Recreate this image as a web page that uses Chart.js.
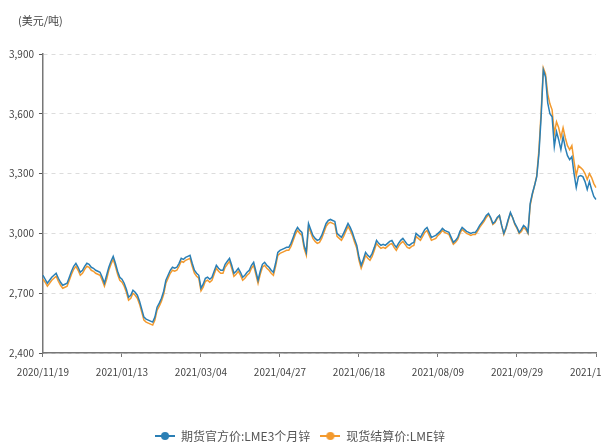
<!DOCTYPE html>
<html>
<head>
<meta charset="utf-8">
<script src="https://cdn.jsdelivr.net/npm/chart.js@4.4.0/dist/chart.umd.min.js"></script>
<style>
  body { margin: 0; background: #fff; overflow: hidden; }
  #wrap { position: relative; width: 601px; height: 448px; overflow: hidden; }
  #unit { position: absolute; left: 18px; top: 12px; font: 11px "Noto Sans CJK SC", sans-serif; color: #444; }
</style>
</head>
<body>
<div id="wrap">
  <div id="unit">(美元/吨)</div>
  <canvas id="chart" width="601" height="452"></canvas>
</div>
<script>
// trading days: weekdays from 2020/11/19, minus LME holidays
const startDay = "2020-11-19";
const dayCount = 253;
const holidays = ["2020-12-25", "2020-12-28", "2021-01-01", "2021-04-02", "2021-04-05", "2021-05-03", "2021-05-31", "2021-08-30"];
const labelEvery = 36;

const futures3m = [
  2790, 2770, 2750, 2765, 2780, 2790, 2800, 2775, 2755, 2740,
  2745, 2750, 2780, 2810, 2835, 2850, 2830, 2805, 2815, 2835,
  2850, 2845, 2830, 2825, 2815, 2810, 2805, 2780, 2750, 2790,
  2830, 2860, 2885, 2850, 2810, 2780, 2770, 2750, 2720, 2680,
  2690, 2715, 2705, 2690, 2660, 2620, 2580, 2570, 2565, 2560,
  2555, 2580, 2630, 2650, 2675, 2710, 2765, 2790, 2815, 2830,
  2825, 2830, 2850, 2875, 2870, 2880, 2885, 2890, 2850, 2815,
  2800, 2790, 2725, 2745, 2775, 2780, 2770, 2780, 2810, 2840,
  2825, 2815, 2815, 2845, 2860, 2875, 2840, 2800, 2810, 2825,
  2805, 2780, 2790, 2805, 2815, 2840, 2855, 2810, 2765, 2810,
  2845, 2855, 2840, 2830, 2815, 2805, 2850, 2905, 2915, 2920,
  2925, 2930, 2930, 2950, 2980, 3010, 3030, 3015, 3005, 2940,
  2905, 3050, 3020, 2990, 2975, 2965, 2970, 2990, 3020, 3050,
  3065, 3070, 3065, 3060, 3000, 2990, 2980, 3000, 3025, 3050,
  3030, 3005, 2970, 2940, 2880, 2840, 2870, 2905, 2890, 2880,
  2900, 2930, 2965, 2950, 2940, 2945, 2940, 2950, 2960, 2965,
  2945, 2930, 2950, 2965, 2975, 2960, 2945, 2940, 2950, 2955,
  3000, 2990, 2980, 3000, 3020, 3030, 3005, 2980, 2985, 2990,
  3000, 3010, 3025, 3015, 3010, 3005, 2980, 2955, 2965, 2980,
  3010, 3030, 3020, 3010, 3005, 3000, 3005, 3005, 3020, 3040,
  3055, 3070, 3090, 3100, 3080, 3050, 3060, 3080, 3090, 3040,
  3000, 3030, 3070, 3105, 3080, 3050, 3030, 3005, 3020, 3040,
  3030, 3005, 3150, 3200, 3240, 3285, 3400, 3585, 3820, 3785,
  3655, 3600, 3585, 3435, 3510, 3470, 3420, 3485, 3430, 3390,
  3370, 3385, 3300, 3230, 3285, 3290, 3285, 3260, 3220, 3260,
  3220, 3185, 3170
];

const spotSettle = [
  2770, 2755, 2735, 2750, 2765, 2775, 2785, 2760, 2740, 2725,
  2730, 2735, 2765, 2795, 2820, 2835, 2815, 2790, 2800, 2820,
  2835, 2830, 2815, 2810, 2800, 2795, 2790, 2765, 2735, 2770,
  2815, 2845, 2870, 2835, 2795, 2765, 2755, 2735, 2705, 2665,
  2675, 2700, 2690, 2675, 2645, 2605, 2565, 2555, 2550, 2545,
  2540, 2565, 2615, 2635, 2660, 2695, 2750, 2775, 2800, 2815,
  2810, 2815, 2835, 2860, 2855, 2865, 2870, 2875, 2835, 2800,
  2785, 2775, 2712, 2730, 2760, 2765, 2755, 2765, 2795, 2825,
  2810, 2800, 2800, 2830, 2845, 2860, 2825, 2785, 2795, 2810,
  2790, 2765, 2775, 2790, 2800, 2825, 2840, 2795, 2750, 2795,
  2830, 2840, 2825, 2815, 2800, 2790, 2835, 2890, 2900, 2905,
  2910, 2915, 2915, 2935, 2965, 2995, 3015, 3000, 2990, 2925,
  2890, 3035, 3005, 2975, 2960, 2950, 2955, 2975, 3005, 3035,
  3050, 3055, 3050, 3045, 2985, 2975, 2965, 2985, 3010, 3035,
  3015, 2990, 2955, 2925, 2865, 2825, 2855, 2890, 2875, 2865,
  2885, 2915, 2950, 2935, 2925, 2930, 2925, 2935, 2945, 2950,
  2930, 2915, 2935, 2950, 2960, 2945, 2930, 2925, 2935, 2940,
  2985, 2975, 2965, 2985, 3005, 3015, 2990, 2965, 2970, 2975,
  2990, 3000, 3015, 3005, 3000, 2995, 2970, 2945, 2955, 2970,
  3000, 3020, 3010, 3000, 2995, 2990, 2995, 2995, 3010, 3030,
  3045, 3060, 3080, 3095, 3075, 3045, 3055, 3075, 3090, 3040,
  2995, 3025, 3065, 3100, 3080, 3045, 3025, 3000, 3010, 3030,
  3020, 3000, 3140, 3195, 3240, 3290, 3420, 3610, 3830, 3800,
  3700, 3650, 3620, 3500, 3560, 3530, 3480, 3530, 3480, 3440,
  3420, 3440, 3360, 3290, 3340, 3330, 3320, 3300, 3270, 3300,
  3280, 3250, 3230
];

const seriesNames = ["期货官方价:LME3个月锌", "现货结算价:LME锌"];
const seriesColors = ["#2a7fb5", "#f39a2e"];

const dates = [];
const d = new Date(startDay + "T00:00:00Z");
while (dates.length < dayCount) {
  const iso = d.toISOString().slice(0, 10);
  const wd = d.getUTCDay();
  if (wd !== 0 && wd !== 6 && !holidays.includes(iso)) dates.push(iso.replace(/-/g, "/"));
  d.setUTCDate(d.getUTCDate() + 1);
}

// legend marker: short line with a dot in the middle
function legendMarker(color) {
  const c = document.createElement("canvas");
  c.width = 20; c.height = 10;
  const g = c.getContext("2d");
  g.strokeStyle = color; g.lineWidth = 2;
  g.beginPath(); g.moveTo(0, 5); g.lineTo(20, 5); g.stroke();
  g.fillStyle = color;
  g.beginPath(); g.arc(10, 5, 4, 0, Math.PI * 2); g.fill();
  return c;
}

const font = { family: '"Noto Sans CJK SC", sans-serif', size: 10 };
const legendFont = { family: '"Noto Sans CJK SC", sans-serif', size: 12 };

new Chart(document.getElementById("chart").getContext("2d"), {
  type: "line",
  data: {
    labels: dates,
    datasets: [
      { label: seriesNames[0], data: futures3m, borderColor: seriesColors[0], backgroundColor: seriesColors[0], borderWidth: 1.5, pointRadius: 0, pointStyle: legendMarker(seriesColors[0]) },
      { label: seriesNames[1], data: spotSettle, borderColor: seriesColors[1], backgroundColor: seriesColors[1], borderWidth: 1.5, pointRadius: 0, pointStyle: legendMarker(seriesColors[1]) }
    ]
  },
  options: {
    responsive: false,
    animation: false,
    layout: { padding: { top: 54, left: 4, right: 5, bottom: 0 } },
    plugins: {
      tooltip: { enabled: false },
      legend: {
        position: "bottom",
        title: { display: true, text: " ", padding: 10.5, font: font },
        labels: { usePointStyle: true, pointStyleWidth: 20, padding: 10, color: "#555", font: legendFont }
      }
    },
    scales: {
      x: {
        afterFit: s => { s.paddingRight = 0; },
        border: { color: "#777", width: 1.5 },
        grid: {
          drawOnChartArea: false,
          tickLength: 4,
          color: c => (c.index % labelEvery === 0 ? "#777" : "transparent")
        },
        ticks: {
          autoSkip: false,
          maxRotation: 0,
          padding: 9,
          color: "#444",
          font: font,
          callback: (v, i) => (i % labelEvery === 0 ? dates[i] : "")
        }
      },
      y: {
        min: 2400,
        max: 3900,
        border: { color: "#777", width: 1.5, dash: [4, 4] },
        grid: { color: "#dcdcdc", tickColor: "#555", tickLength: 4 },
        ticks: {
          stepSize: 300,
          padding: 5,
          color: "#444",
          font: font,
          callback: v => v.toLocaleString("en-US")
        }
      }
    }
  }
});
</script>
</body>
</html>
